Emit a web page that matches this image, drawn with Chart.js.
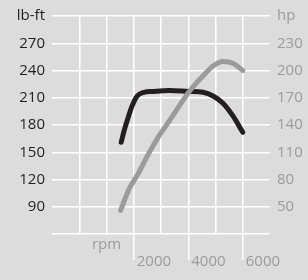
<!DOCTYPE html>
<html>
<head>
<meta charset="utf-8">
<script src="https://cdn.jsdelivr.net/npm/chart.js@4.4.1/dist/chart.umd.min.js"></script>
<style>
  html, body { margin: 0; padding: 0; background: #dcdcdc; }
  #wrap { width: 308px; height: 280px; }
</style>
</head>
<body>
<div id="wrap"><canvas id="chartEngine" width="308" height="280"></canvas></div>
<script>
// ── Data ──
const torqueRpm  = [1540, 1650, 1760, 1940, 2125, 2370, 2700, 3300, 4000, 4540, 4910, 5275, 5640, 6000];
const torqueLbFt = [161, 174, 185, 201, 212, 216, 217, 218, 217, 216, 212, 204, 190, 172];
const powerRpm   = [1520, 1806, 2172, 2538, 2905, 3271, 4065, 4540, 4910, 5275, 5640, 6000];
const powerHp    = [46, 68, 87, 108, 127, 143, 178, 194, 205, 210, 208, 200];

// ── Tick labels ──
const rpmTicks    = [2000, 4000, 6000];
const torqueTicks = [90, 120, 150, 180, 210, 240, 270];
const hpTicks     = [50, 80, 110, 140, 170, 200, 230];
const rpmLabel    = 'rpm';
const torqueUnit  = 'lb-ft';
const hpUnit      = 'hp';

const FONT  = { family: "'Open Sans', sans-serif", size: 15 };
const DARK  = '#231f20';
const GREY  = '#9b9b9b';
const WHITE = '#ffffff';
const NONE  = 'rgba(0,0,0,0)';

const torqueData = torqueRpm.map((r, i) => ({ x: r, y: torqueLbFt[i] }));
const powerData  = powerRpm.map((r, i) => ({ x: r, y: powerHp[i] }));

const lineStyle = {
  borderWidth: 5,
  pointRadius: 0,
  fill: false,
  cubicInterpolationMode: 'monotone',
  borderCapStyle: 'round',
  borderJoinStyle: 'round',
};

new Chart(document.getElementById('chartEngine').getContext('2d'), {
  type: 'line',
  data: {
    datasets: [
      { ...lineStyle, label: 'Torque', data: torqueData, borderColor: DARK, yAxisID: 'y', order: 1 },
      { ...lineStyle, label: 'Power',  data: powerData,  borderColor: GREY, yAxisID: 'y1', order: 0 },
    ]
  },
  options: {
    responsive: false,
    animation: false,
    layout: { padding: { top: 15, left: 0, right: 0, bottom: 0 } },
    plugins: { legend: { display: false }, tooltip: { enabled: false } },
    scales: {
      // unit label under the axis, sits at 1000 rpm
      xr: {
        type: 'linear', position: 'bottom', weight: 0,
        min: -1000, max: 7000,
        border: { display: false },
        grid: { display: false, drawTicks: false },
        afterBuildTicks: s => { s.ticks = [{ value: 1000 }]; },
        ticks: { mirror: true, padding: -20, color: GREY, font: FONT, maxRotation: 0, callback: () => rpmLabel },
        afterFit: s => { s.height = 0; }
      },
      x: {
        type: 'linear', position: 'bottom', weight: 1,
        min: -1000, max: 7000,
        border: { display: false },
        grid: {
          color: c => (c.tick && c.tick.value >= 0 && c.tick.value <= 6000) ? WHITE : NONE,
          tickColor: c => (c.tick && rpmTicks.includes(c.tick.value)) ? WHITE : NONE,
          lineWidth: 1.5, tickWidth: 1.5, tickLength: 26
        },
        ticks: {
          stepSize: 1000, autoSkip: false, maxRotation: 0,
          align: 'start', labelOffset: 3, padding: -7,
          color: GREY, font: FONT,
          callback: v => rpmTicks.includes(v) ? String(v) : ''
        },
        afterFit: s => { s.height = 46; }
      },
      y: {
        position: 'left', min: 60, max: 300,
        border: { display: false },
        grid: { color: WHITE, lineWidth: 1.5, drawTicks: false },
        ticks: {
          stepSize: 30, padding: 7, color: DARK, font: FONT,
          callback: v => v === 300 ? torqueUnit : (torqueTicks.includes(v) ? String(v) : '')
        },
        afterFit: s => { s.width = 52; }
      },
      y1: {
        position: 'right', min: 20, max: 260,
        border: { display: false },
        grid: { display: false, drawTicks: false },
        ticks: {
          stepSize: 30, padding: 7, color: GREY, font: FONT,
          callback: v => v === 260 ? hpUnit : (hpTicks.includes(v) ? String(v) : '')
        },
        afterFit: s => { s.width = 38; }
      }
    }
  }
});
</script>
</body>
</html>
